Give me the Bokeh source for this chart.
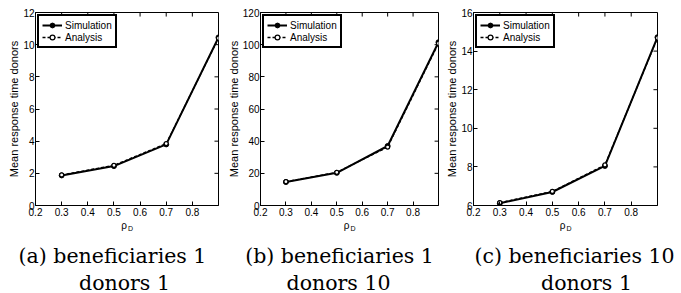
from bokeh.plotting import figure
from bokeh.models import Label, FixedTicker, Range1d
from bokeh.layouts import row, column
from bokeh.embed import file_html
from bokeh.resources import INLINE

# ---- data ----
rho_d = [0.3, 0.5, 0.7, 0.9]

sim_a = [1.87, 2.45, 3.80, 10.45]
ana_a = [1.90, 2.50, 3.85, 10.40]

sim_b = [14.6, 20.3, 37.0, 101.5]
ana_b = [14.8, 20.6, 36.3, 100.8]

sim_c = [6.12, 6.70, 8.05, 14.72]
ana_c = [6.15, 6.73, 8.10, 14.68]

x_ticks = [0.2, 0.3, 0.4, 0.5, 0.6, 0.7, 0.8]
y_ticks_a = [0, 2, 4, 6, 8, 10, 12]
y_ticks_b = [0, 20, 40, 60, 80, 100, 120]
y_ticks_c = [6, 8, 10, 12, 14, 16]

captions = [("(a) beneficiaries 1", "donors 1"),
            ("(b) beneficiaries 1", "donors 10"),
            ("(c) beneficiaries 10", "donors 1")]

TICK_FONT = "Liberation Sans Narrow, Liberation Sans, Arial"
LABEL_FONT = "Liberation Sans, Arial"
CAP_FONT = "DejaVu Serif"
CAP_SIZE = "20.5px"

X_LO, X_HI = 0.2, 0.9
TOP, FRAME_H, BOTTOM = 12, 193, 15
MAIN_H = TOP + FRAME_H + BOTTOM
CAP_H = 73


def panel(sim, ana, yticks, width, left, right):
    y_lo, y_hi = yticks[0], yticks[-1]
    p = figure(width=width, height=MAIN_H, output_backend="svg", toolbar_location=None,
               x_range=Range1d(X_LO, X_HI), y_range=Range1d(y_lo, y_hi),
               min_border_left=left, min_border_right=right,
               min_border_top=TOP, min_border_bottom=BOTTOM)
    p.grid.visible = False
    p.outline_line_color = "black"
    p.outline_line_width = 1
    p.border_fill_color = "white"

    for ax in p.xaxis + p.yaxis:
        ax.major_tick_in = 4
        ax.major_tick_out = 0
        ax.minor_tick_in = 0
        ax.minor_tick_out = 0
        ax.axis_line_color = "black"
        ax.major_tick_line_color = "black"
        ax.major_label_text_font = TICK_FONT
        ax.major_label_text_font_size = "10px"
        ax.major_label_text_color = "black"
        ax.major_label_standoff = 2
    p.yaxis.major_label_standoff = 1
    p.xaxis.ticker = FixedTicker(ticks=x_ticks)
    p.yaxis.ticker = FixedTicker(ticks=yticks)
    p.yaxis.axis_label = "Mean response time donors"
    p.yaxis.axis_label_text_font = LABEL_FONT
    p.yaxis.axis_label_text_font_size = "11px"
    p.yaxis.axis_label_text_font_style = "normal"
    p.yaxis.axis_label_text_color = "black"
    p.yaxis.axis_label_standoff = 0

    # mirrored inward tick marks on the top and right edges (MATLAB box style)
    tx = 0.021 * (y_hi - y_lo)
    ty = 0.022 * (X_HI - X_LO)
    p.segment(x0=x_ticks, y0=[y_hi] * len(x_ticks), x1=x_ticks, y1=[y_hi - tx] * len(x_ticks),
              line_color="black", line_width=1)
    p.segment(x0=[X_HI] * len(yticks), y0=yticks, x1=[X_HI - ty] * len(yticks), y1=yticks,
              line_color="black", line_width=1)

    p.line(rho_d, sim, line_color="black", line_width=2, legend_label="Simulation")
    p.scatter(rho_d, sim, marker="circle", size=5, fill_color="black", line_color="black",
              legend_label="Simulation")
    p.line(rho_d, ana, line_color="black", line_width=1.3, line_dash="3 2", legend_label="Analysis")
    p.scatter(rho_d, ana, marker="circle", size=4, fill_color="white", line_color="black",
              line_width=1.2, legend_label="Analysis")

    lg = p.legend[0]
    lg.location = "top_left"
    lg.margin = 2
    lg.padding = 3
    lg.spacing = 0
    lg.border_line_color = "black"
    lg.border_line_width = 2
    lg.border_line_alpha = 1
    lg.label_text_font = TICK_FONT
    lg.label_text_font_size = "10px"
    lg.label_text_color = "black"
    lg.label_height = 12
    lg.glyph_height = 12
    lg.glyph_width = 20
    lg.label_standoff = 3
    lg.background_fill_alpha = 1
    return p


def caption(width, rho_x, cap, c1, c2):
    c = figure(width=width, height=CAP_H, output_backend="svg", toolbar_location=None,
               x_range=Range1d(0, width), y_range=Range1d(0, CAP_H),
               min_border=0, outline_line_color=None)
    c.axis.visible = False
    c.grid.visible = False
    c.add_layout(Label(x=rho_x - 3, y=68, text="ρ", text_font=LABEL_FONT, text_color="black",
                       text_font_size="10px", text_align="center", text_baseline="middle"))
    c.add_layout(Label(x=rho_x + 1, y=65, text="D", text_font=LABEL_FONT, text_color="black",
                       text_font_size="7px", text_align="left", text_baseline="middle"))
    c.add_layout(Label(x=c1, y=38, text=cap[0], text_font=CAP_FONT, text_font_size=CAP_SIZE,
                       text_color="black", text_align="center", text_baseline="middle"))
    c.add_layout(Label(x=c2, y=11, text=cap[1], text_font=CAP_FONT, text_font_size=CAP_SIZE,
                       text_color="black", text_align="center", text_baseline="middle"))
    return c


W_A, L_A, F_A, R_A = 220, 35, 183, 2
W_B, L_B, F_B, R_B = 220, 40, 178, 2
W_C, L_C, F_C, R_C = 241, 33, 184, 24

pa = panel(sim_a, ana_a, y_ticks_a, W_A, L_A, R_A)
pb = panel(sim_b, ana_b, y_ticks_b, W_B, L_B, R_B)
pc = panel(sim_c, ana_c, y_ticks_c, W_C, L_C, R_C)

ca = caption(W_A, L_A + F_A / 2, captions[0], 112, 124)
cb = caption(W_B, L_B + F_B / 2, captions[1], 119, 118)
cc = caption(W_C, L_C + F_C / 2, captions[2], 134, 146)

layout = column(row(pa, pb, pc), row(ca, cb, cc))
open("out.html", "w").write(file_html(layout, INLINE))
